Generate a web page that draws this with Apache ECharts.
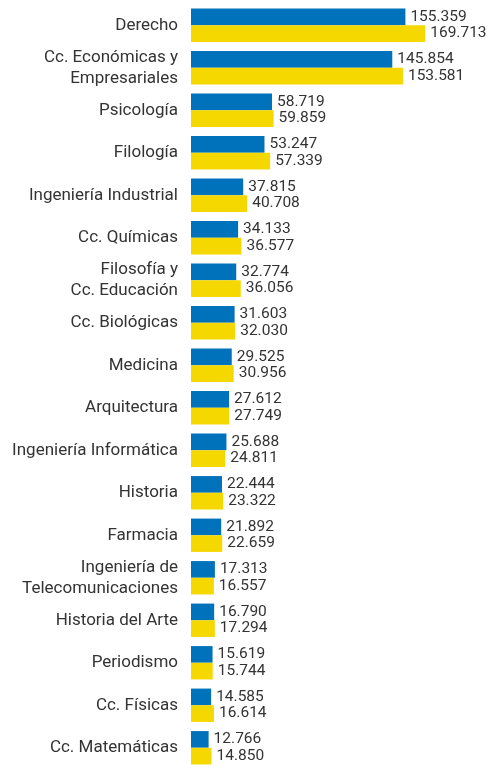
<!DOCTYPE html>
<html>
<head>
<meta charset="utf-8">
<script src="https://cdn.jsdelivr.net/npm/echarts@6/dist/echarts.min.js"></script>
<style>
  html, body { margin: 0; padding: 0; background: #fff; }
  #chart { width: 490px; height: 769px; }
</style>
</head>
<body>
<div id="chart"></div>
<script>
// categories, top to bottom
const categories = [
  "Derecho",
  "Cc. Económicas y\nEmpresariales",
  "Psicología",
  "Filología",
  "Ingeniería Industrial",
  "Cc. Químicas",
  "Filosofía y\nCc. Educación",
  "Cc. Biológicas",
  "Medicina",
  "Arquitectura",
  "Ingeniería Informática",
  "Historia",
  "Farmacia",
  "Ingeniería de\nTelecomunicaciones",
  "Historia del Arte",
  "Periodismo",
  "Cc. Físicas",
  "Cc. Matemáticas",
];

// blue series (upper bar of each pair)
const blueValues = [
  155.359, 145.854, 58.719, 53.247, 37.815, 34.133, 32.774, 31.603, 29.525,
  27.612, 25.688, 22.444, 21.892, 17.313, 16.790, 15.619, 14.585, 12.766,
];

// yellow series (lower bar of each pair)
const yellowValues = [
  169.713, 153.581, 59.859, 57.339, 40.708, 36.577, 36.056, 32.030, 30.956,
  27.749, 24.811, 23.322, 22.659, 16.557, 17.294, 15.744, 16.614, 14.850,
];

const FONT = "Roboto, sans-serif";

const valueLabel = {
  show: true,
  position: "right",
  distance: 5,
  color: "#333",
  fontFamily: FONT,
  fontSize: 15.5,
  formatter: (p) => p.value.toFixed(3),
};

const chart = echarts.init(document.getElementById("chart"));
chart.setOption({
  animation: false,
  backgroundColor: "#fff",
  grid: {
    left: 191,
    top: 4,
    height: 768,
    right: 23,
  },
  xAxis: {
    type: "value",
    min: 0,
    max: 200,
    show: false,
  },
  yAxis: {
    type: "category",
    data: categories,
    inverse: true,
    axisLine: { show: false },
    axisTick: { show: false },
    splitLine: { show: false },
    axisLabel: {
      margin: 13,
      color: "#333",
      fontFamily: FONT,
      fontSize: 17,
      lineHeight: 21,
      align: "right",
    },
  },
  series: [
    {
      name: "blue",
      type: "bar",
      data: blueValues,
      barGap: 0,
      barCategoryGap: "21.5%",
      itemStyle: { color: "#0072BB" },
      label: valueLabel,
    },
    {
      name: "yellow",
      type: "bar",
      data: yellowValues,
      barGap: 0,
      barCategoryGap: "21.5%",
      itemStyle: { color: "#F5D800" },
      label: valueLabel,
    },
  ],
});
</script>
</body>
</html>
